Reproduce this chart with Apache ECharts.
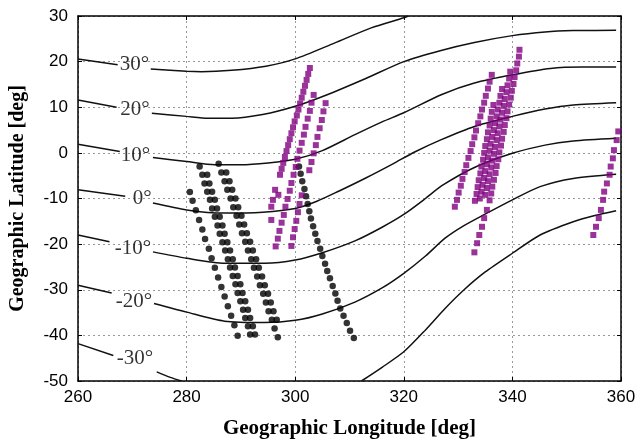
<!DOCTYPE html>
<html>
<head>
<meta charset="utf-8">
<script src="https://cdn.jsdelivr.net/npm/echarts@6/dist/echarts.min.js"></script>
<style>
html, body { margin: 0; padding: 0; background: #fff; }
#chart { width: 637px; height: 441px; }
</style>
</head>
<body>
<div id="chart"></div>
<script>
const xTicks = [260, 280, 300, 320, 340, 360];
const yTicks = [-50, -40, -30, -20, -10, 0, 10, 20, 30];

// geomagnetic latitude contours as [lon, lat], split where the label sits
const mag30Left = [[260, 20.6], [267.3, 19.3]];
const mag30 = [[273.4, 18.4], [280, 17.9], [282.7, 17.8], [288.3, 18.1], [294.6, 19.0], [300, 20.6], [307.3, 24.1], [314, 27.4], [320, 29.6], [320.8, 30]];
const mag20Left = [[260, 11.6], [267.1, 10.0]];
const mag20 = [[273.6, 8.7], [280, 8.0], [284, 7.6], [288.3, 7.6], [294, 8.4], [300, 10.2], [306, 12.8], [313, 16.3], [320, 20.0], [326.7, 22.4], [333, 24.2], [340, 25.7], [346, 26.5], [351.2, 26.8], [359.1, 26.9]];
const mag10Left = [[260, 1.9], [267.7, 0.3]];
const mag10 = [[273.8, -1.0], [280, -1.9], [285.2, -2.6], [290, -2.6], [295, -2.2], [300, -1.4], [305, 0.5], [311, 4.0], [316, 6.8], [320, 8.8], [327, 12.8], [333, 15.3], [340, 17.1], [347, 18.5], [353, 18.8], [359.1, 18.8]];
const mag0Left = [[260, -8.1], [268.7, -9.5]];
const mag0 = [[273.8, -11.0], [280, -12.5], [287, -13.2], [294, -13.0], [300, -12.2], [304, -10.6], [308, -8.4], [313, -5.5], [318, -2.4], [322, 0.2], [326.7, 2.8], [333, 5.8], [340, 8.0], [346, 9.6], [351.2, 10.5], [359.1, 11.0]];
const magM10Left = [[260, -18.0], [265.8, -19.5]];
const magM10 = [[273.8, -21.7], [280, -23.1], [287, -24.2], [294.4, -24.2], [300, -23.5], [305, -21.9], [311, -19.3], [316, -16.3], [320, -13.5], [324, -10.0], [327, -7.2], [333, -3.2], [340, -0.1], [346, 1.7], [351.2, 2.6], [359.1, 3.2]];
const magM20Left = [[260, -29.0], [266.2, -30.7]];
const magM20 = [[274, -33.0], [280, -34.9], [287, -36.9], [294.4, -37.2], [300, -36.7], [305, -35.3], [311, -32.7], [316, -29.6], [320, -26.4], [324, -22.6], [327.6, -18.7], [331, -16.0], [334.7, -13.6], [340, -10.3], [345.1, -7.4], [351.2, -5.6], [359.1, -4.7]];
const magM30Left = [[260, -41.8], [266.5, -44.4]];
const magM30West = [[274.5, -48.0], [277, -49.2], [279.1, -50]];
const magM30 = [[312.2, -50], [316, -47.0], [320, -43.6], [324, -38.8], [327.6, -34.1], [331, -30.1], [335, -26.1], [340, -22.0], [345.1, -18.0], [351.2, -15.1], [355, -13.8], [359.1, -12.7]];

const contourLabels = ['30°', '20°', '10°', '0°', '-10°', '-20°', '-30°'];
const labelLon = [270.4, 270.5, 270.6, 271.8, 270.1, 270.3, 270.5];
const labelLat = [19.3, 9.6, -0.5, -10.1, -20.9, -32.5, -45.1];

// black tracks
const trackK1 = [[280.6, -8.6], [281.1, -10.5], [281.7, -12.6], [282.3, -14.7], [282.9, -16.8], [283.4, -18.9], [284.1, -21.0], [284.6, -23.1], [285.2, -25.2], [285.8, -27.3], [286.4, -29.4], [287.0, -31.5], [287.6, -33.6], [288.2, -35.7], [288.8, -37.8], [289.4, -40.1]];
const trackK2a = [[282.4, -3.0], [282.9, -4.8], [283.3, -6.7], [283.8, -8.5], [284.3, -10.3], [284.7, -12.2], [285.2, -14.0], [285.7, -15.9], [286.1, -17.7], [286.6, -19.6], [287.1, -21.4], [287.6, -23.3], [288.0, -25.1], [288.5, -27.0], [289.0, -28.8], [289.4, -30.7], [289.9, -32.5], [290.4, -34.4], [290.8, -36.2], [291.3, -38.0], [291.7, -39.8]];
const trackK2b = [[283.8, -4.8], [284.2, -6.7], [284.7, -8.5], [285.2, -10.3], [285.6, -12.2], [286.1, -14.0], [286.6, -15.9], [287.0, -17.7], [287.5, -19.6], [288.0, -21.4], [288.5, -23.3], [288.9, -25.1], [289.4, -27.0], [289.9, -28.8], [290.3, -30.7], [290.8, -32.5], [291.3, -34.4], [291.7, -36.2], [292.2, -38.0], [292.6, -39.8]];
const trackK3a = [[285.9, -2.4], [286.4, -4.3], [287.0, -6.2], [287.5, -8.1], [288.1, -10.0], [288.6, -11.9], [289.2, -13.8], [289.7, -15.7], [290.2, -17.6], [290.8, -19.5], [291.3, -21.4], [291.9, -23.3], [292.4, -25.2], [293.0, -27.1], [293.5, -29.0], [294.1, -30.9], [294.6, -32.8], [295.1, -34.7], [295.7, -36.6], [296.2, -38.5], [296.8, -40.4]];
const trackK3b = [[287.3, -4.3], [287.9, -6.2], [288.4, -8.1], [289.0, -10.0], [289.5, -11.9], [290.1, -13.8], [290.6, -15.7], [291.1, -17.6], [291.7, -19.5], [292.2, -21.4], [292.8, -23.3], [293.3, -25.2], [293.9, -27.1], [294.4, -29.0], [295.0, -30.9], [295.5, -32.8], [296.0, -34.7], [296.6, -36.6]];
const trackK4 = [[300.7, -3.0], [301.0, -4.6], [301.3, -6.2], [301.7, -7.9], [302.0, -9.5], [302.3, -11.2], [302.6, -12.8], [302.9, -14.4], [303.3, -16.1], [303.7, -17.7], [304.1, -19.3], [304.6, -21.0], [305.0, -22.6], [305.5, -24.3], [305.9, -25.9], [306.4, -27.5], [306.9, -29.2], [307.4, -30.8], [307.8, -32.4], [308.3, -34.1], [308.9, -35.7], [309.5, -37.3], [310.1, -39.0], [310.8, -40.6]];

// purple tracks
const trackP1a = [[302.7, 18.6], [302.4, 17.3], [302.1, 16.0], [301.8, 14.7], [301.5, 13.4], [301.2, 12.1], [300.9, 10.8], [300.6, 9.5], [300.3, 8.2], [299.9, 6.9], [299.6, 5.6], [299.3, 4.3], [299.0, 3.0], [298.7, 1.7], [298.4, 0.4], [298.1, -0.9], [297.8, -2.2], [297.5, -3.5], [297.2, -4.8], [296.3, -8.1], [296.9, -9.2], [295.9, -10.3], [295.6, -11.8], [295.6, -14.7]];
const trackP1b = [[303.4, 12.7], [303.0, 11.0], [302.7, 9.2], [302.3, 7.5], [301.9, 5.7], [301.6, 4.0], [301.2, 2.2], [300.8, 0.5], [300.4, -1.3], [300.1, -3.1], [299.7, -4.8], [299.3, -6.6], [299.0, -8.3], [298.6, -10.1], [298.2, -11.8], [297.9, -13.6], [297.5, -15.3], [297.1, -17.1], [296.8, -18.8], [296.4, -20.5]];
const trackP1c = [[305.6, 10.9], [305.2, 9.1], [304.9, 7.2], [304.5, 5.4], [304.1, 3.5], [303.8, 1.7], [303.4, -0.1], [303.0, -2.0], [302.6, -3.8], [301.2, -9.3], [300.8, -11.2], [300.5, -13.0], [300.2, -14.9], [299.9, -16.7], [299.6, -18.5], [299.3, -20.4]];
const trackP2a = [[336.2, 17.1], [335.8, 15.6], [335.5, 14.1], [335.1, 12.5], [334.8, 11.0], [334.4, 9.5], [334.1, 8.0], [333.7, 6.5], [333.3, 4.9], [333.0, 3.4], [332.6, 1.9], [332.3, 0.4], [331.9, -1.1], [331.5, -2.7], [331.2, -4.2], [330.8, -5.7], [330.5, -7.2], [330.1, -8.7], [329.8, -10.3], [329.4, -11.8]];
const trackP2b = [[341.3, 22.6], [341.2, 21.1], [340.9, 19.6], [340.7, 18.1], [340.4, 16.6], [340.2, 15.1], [339.9, 13.6], [339.7, 12.1], [339.4, 10.6], [339.1, 9.1], [338.9, 7.6], [338.6, 6.1], [338.4, 4.6], [338.1, 3.1], [337.9, 1.6], [337.6, 0.1], [337.4, -1.4], [337.1, -2.9], [336.9, -4.4], [336.6, -5.9], [336.3, -7.4], [336.1, -8.9], [335.8, -10.4], [335.3, -12.5], [334.8, -14.3], [334.4, -16.2], [333.9, -18.0], [333.5, -19.8], [333.0, -21.8]];
const trackP2c = [[339.6, 17.8], [339.4, 16.3], [339.1, 14.8], [338.9, 13.3], [338.6, 11.8], [338.4, 10.3], [338.1, 8.8], [337.8, 7.3], [337.6, 5.8], [337.3, 4.3], [337.1, 2.8], [336.8, 1.3], [336.6, -0.2], [336.3, -1.7], [336.1, -3.2], [335.8, -4.7], [335.5, -6.2], [335.3, -7.7], [335.0, -9.2]];
const trackP2d = [[338.1, 14.0], [337.8, 12.5], [337.6, 11.0], [337.3, 9.5], [337.1, 8.0], [336.8, 6.5], [336.6, 5.0], [336.3, 3.5], [336.0, 2.0], [335.8, 0.5], [335.5, -1.0], [335.3, -2.5], [335.0, -4.0], [334.8, -5.5], [334.5, -7.0], [334.3, -8.5], [334.0, -10.0]];
const trackP2e = [[336.5, 10.5], [336.2, 9.0], [336.0, 7.5], [335.8, 6.0], [335.5, 4.5], [335.3, 3.0], [335.0, 1.5], [334.8, 0.0], [334.6, -1.5], [334.3, -3.0], [334.1, -4.5], [333.8, -6.0], [333.6, -7.5], [333.4, -9.0], [333.1, -10.5]];
const trackP3 = [[359.5, 4.7], [359.2, 2.8], [358.7, 0.6], [358.5, -1.2], [358.1, -3.0], [357.9, -4.8], [357.4, -6.7], [356.9, -8.5], [356.7, -10.3], [356.3, -12.5], [355.9, -14.3], [355.4, -16.2], [354.9, -18.0]];

const contours = [mag30Left, mag30, mag20Left, mag20, mag10Left, mag10, mag0Left, mag0, magM10Left, magM10, magM20Left, magM20, magM30Left, magM30West, magM30];
const blackTracks = [trackK1, trackK2a, trackK2b, trackK3a, trackK3b, trackK4];
const purpleTracks = [trackP1a, trackP1b, trackP1c, trackP2a, trackP2b, trackP2c, trackP2d, trackP2e, trackP3];

const serif = '"Liberation Serif", "DejaVu Serif", serif';
const sans = '"Liberation Sans", Arial, sans-serif';

const chart = echarts.init(document.getElementById('chart'));

const series = [];
contours.forEach(seg => {
    series.push({
        type: 'line',
        data: seg,
        showSymbol: false,
        smooth: 0.25,
        lineStyle: { color: '#111', width: 1.5 },
        z: 2
    });
});
series.push({
    type: 'scatter',
    data: labelLon.map((x, i) => [x, labelLat[i]]),
    symbolSize: 0,
    label: {
        show: true,
        position: 'inside',
        formatter: p => contourLabels[p.dataIndex],
        color: '#000',
        fontFamily: serif,
        fontSize: 21
    },
    z: 3
});
blackTracks.forEach(tr => {
    series.push({
        type: 'scatter',
        data: tr,
        symbol: 'circle',
        symbolSize: 6.5,
        itemStyle: { color: '#000' },
        z: 4
    });
});
purpleTracks.forEach(tr => {
    series.push({
        type: 'scatter',
        data: tr,
        symbol: 'rect',
        symbolSize: 6,
        itemStyle: { color: '#800080' },
        z: 5
    });
});

const gridLine = { show: true, lineStyle: { color: '#999', type: [2, 3], width: 1 } };
const frameLine = { show: true, onZero: false, lineStyle: { color: '#000', width: 1.5 } };
const innerTick = { show: true, inside: true, length: 4, lineStyle: { color: '#000' } };

chart.setOption({
    animation: false,
    backgroundColor: '#fff',
    grid: { left: 78, right: 16, top: 16, bottom: 60, outerBoundsMode: 'none' },
    xAxis: [{
        type: 'value',
        min: xTicks[0],
        max: xTicks[xTicks.length - 1],
        interval: xTicks[1] - xTicks[0],
        name: 'Geographic Longitude [deg]',
        nameLocation: 'middle',
        nameGap: 37,
        nameTextStyle: { fontFamily: serif, fontWeight: 'bold', fontSize: 21, color: '#000' },
        axisLine: frameLine,
        axisTick: innerTick,
        axisLabel: { fontFamily: sans, fontSize: 17, color: '#000', margin: 8 },
        splitLine: gridLine
    }, {
        type: 'value',
        position: 'top',
        min: xTicks[0],
        max: xTicks[xTicks.length - 1],
        interval: xTicks[1] - xTicks[0],
        axisLine: frameLine,
        axisTick: innerTick,
        axisLabel: { show: false },
        splitLine: { show: false }
    }],
    yAxis: [{
        type: 'value',
        min: yTicks[0],
        max: yTicks[yTicks.length - 1],
        interval: yTicks[1] - yTicks[0],
        name: 'Geographic Latitude [deg]',
        nameLocation: 'middle',
        nameGap: 50,
        nameTextStyle: { fontFamily: serif, fontWeight: 'bold', fontSize: 20, color: '#000' },
        axisLine: frameLine,
        axisTick: innerTick,
        axisLabel: { fontFamily: sans, fontSize: 17, color: '#000', margin: 10 },
        splitLine: gridLine
    }, {
        type: 'value',
        position: 'right',
        min: yTicks[0],
        max: yTicks[yTicks.length - 1],
        interval: yTicks[1] - yTicks[0],
        axisLine: frameLine,
        axisTick: innerTick,
        axisLabel: { show: false },
        splitLine: { show: false }
    }],
    series: series
});
</script>
</body>
</html>
